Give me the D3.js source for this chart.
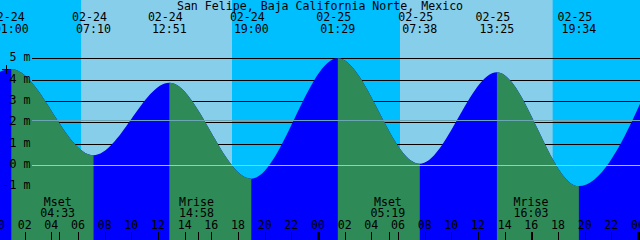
<!DOCTYPE html>
<html lang="en">
<head>
    <meta charset="UTF-8">
    <title>San Felipe tide graph</title>
    <script src="https://d3js.org/d3.v7.min.js"></script>
    <style>
        body { margin: 0; background: #fff; }
        svg { display: block; }
        text {
            font-family: "DejaVu Sans Mono", "Liberation Mono", monospace;
            font-size: 11.6px;
            fill: #000;
        }
        .grid { stroke: #000; stroke-width: 1; shape-rendering: crispEdges; }
        .tick { stroke: #000; shape-rendering: crispEdges; }
    </style>
</head>
<body>

<svg id="chart" width="640" height="240"></svg>

<script>
    const title = "San Felipe, Baja California Norte, Mexico";

    // tide extremes (first and last lie just outside the window)
    const tideTimes   = ["02-23 18:40", "02-24 01:00", "02-24 07:10", "02-24 12:51", "02-24 19:00",
                         "02-25 01:29", "02-25 07:38", "02-25 13:25", "02-25 19:34", "02-26 01:40"];
    const tideHeights = [-0.4, 4.5, 0.45, 3.85, -0.65, 5.0, 0.05, 4.35, -1.0, 5.1];
    const tideTypes   = ["low", "high", "low", "high", "low", "high", "low", "high", "low", "high"];

    const sunrise = ["02-24 06:14", "02-25 06:09"];
    const sunset  = ["02-24 17:33", "02-25 17:36"];

    const moonTimes  = ["02-24 04:33", "02-24 14:58", "02-25 05:19", "02-25 16:03"];
    const moonEvents = ["Mset", "Mrise", "Mset", "Mrise"];

    const depthTicks = [-1, 0, 1, 2, 3, 4, 5];
    const meanLevel = 2.09;
    const startTime = "02-24 00:00", endTime = "02-26 00:00";

    const W = 640, H = 240;
    const parse = d3.utcParse("%m-%d %H:%M");
    const fmtDate = d3.utcFormat("%m-%d");
    const fmtTime = d3.utcFormat("%H:%M");
    const fmtHour = d3.utcFormat("%H");

    const tides = tideTimes.map((t, i) => ({t: parse(t), h: tideHeights[i], type: tideTypes[i]}));

    const x = d3.scaleUtc()
        .domain([parse(startTime), parse(endTime)])
        .range([-2, 638]);
    const y = d3.scaleLinear()
        .domain([-1, 5])
        .range([186.1, 58.3]);

    const svg = d3.select("#chart");

    // night / day background
    svg.append("rect").attr("width", W).attr("height", H).attr("fill", "#00BFFF");
    svg.selectAll(".day")
        .data(sunrise.map((s, i) => [parse(s), parse(sunset[i])]))
        .enter().append("rect")
        .attr("class", "day")
        .attr("x", d => x(d[0]))
        .attr("width", d => x(d[1]) - x(d[0]))
        .attr("y", 0).attr("height", H)
        .attr("fill", "#87CEEB");

    // depth lines behind the water
    svg.selectAll(".grid")
        .data(depthTicks.filter(d => d !== 0))
        .enter().append("line")
        .attr("class", "grid")
        .attr("x1", 32).attr("x2", W)
        .attr("y1", d => Math.round(y(d)) + 0.5)
        .attr("y2", d => Math.round(y(d)) + 0.5);

    // water: flood in blue, ebb in green via clip
    const area = d3.area()
        .x(d => x(d.t))
        .y0(H)
        .y1(d => y(d.h))
        .curve(d3.curveMonotoneX);

    const ebb = [];
    tides.forEach((d, i) => {
        if (d.type === "high" && i + 1 < tides.length) ebb.push([d.t, tides[i + 1].t]);
    });

    svg.append("clipPath").attr("id", "ebbClip")
        .selectAll("rect")
        .data(ebb)
        .enter().append("rect")
        .attr("x", d => x(d[0]))
        .attr("width", d => x(d[1]) - x(d[0]))
        .attr("y", 0).attr("height", H);

    svg.append("path").datum(tides).attr("d", area).attr("fill", "#0000FF");
    svg.append("path").datum(tides).attr("d", area).attr("fill", "#2E8B57")
        .attr("clip-path", "url(#ebbClip)");

    // datum and mean level lines on top
    svg.append("line").attr("class", "grid")
        .attr("x1", 32).attr("x2", W)
        .attr("y1", Math.round(y(0)) + 0.5).attr("y2", Math.round(y(0)) + 0.5)
        .style("stroke", "#87CEEB");
    svg.append("line").attr("class", "grid")
        .attr("x1", 32).attr("x2", W)
        .attr("y1", Math.round(y(meanLevel)) + 0.5).attr("y2", Math.round(y(meanLevel)) + 0.5)
        .style("stroke", "#6AA6B4");

    // depth labels
    svg.selectAll(".ylab")
        .data(depthTicks)
        .enter().append("text")
        .attr("class", "ylab")
        .attr("x", 30.5)
        .attr("y", d => y(d) + 3)
        .attr("text-anchor", "end")
        .text(d => d + " m");

    // marker
    svg.append("path")
        .attr("d", "M1.5,69.5H10.5M6,65V74")
        .attr("stroke", "#000").attr("fill", "none")
        .attr("shape-rendering", "crispEdges");

    // title
    svg.append("text").attr("x", W / 2).attr("y", 9.5)
        .attr("text-anchor", "middle").text(title);

    // tide event labels
    const shown = tides.filter(d => d.t >= x.domain()[0] && d.t <= x.domain()[1]);
    svg.selectAll(".tdate")
        .data(shown)
        .enter().append("text")
        .attr("x", d => x(d.t) - 4)
        .attr("y", 21)
        .attr("text-anchor", "middle")
        .text(d => fmtDate(d.t));
    svg.selectAll(".ttime")
        .data(shown)
        .enter().append("text")
        .attr("x", d => x(d.t))
        .attr("y", 33)
        .attr("text-anchor", "middle")
        .text(d => fmtTime(d.t));

    // moon events
    const moon = moonTimes.map((t, i) => ({t: parse(t), name: moonEvents[i]}));
    svg.selectAll(".mname")
        .data(moon)
        .enter().append("text")
        .attr("x", d => x(d.t) - 1)
        .attr("y", 205.7)
        .attr("text-anchor", "middle")
        .text(d => d.name);
    svg.selectAll(".mtime")
        .data(moon)
        .enter().append("text")
        .attr("x", d => x(d.t) - 1)
        .attr("y", 217.3)
        .attr("text-anchor", "middle")
        .text(d => fmtTime(d.t));
    svg.selectAll(".mtick")
        .data(moon)
        .enter().append("line")
        .attr("class", "tick")
        .attr("x1", d => Math.round(x(d.t)) + 0.5)
        .attr("x2", d => Math.round(x(d.t)) + 0.5)
        .attr("y1", 231.5).attr("y2", H);

    // hour axis
    const hours = x.ticks(d3.utcHour.every(2));
    svg.selectAll(".htick")
        .data(hours)
        .enter().append("line")
        .attr("class", "tick")
        .attr("x1", d => Math.round(x(d)) + 0.5)
        .attr("x2", d => Math.round(x(d)) + 0.5)
        .attr("y1", 231.5).attr("y2", H)
        .attr("stroke-width", d => d.getUTCHours() === 0 ? 3 : 1);
    svg.selectAll(".hlab")
        .data(hours)
        .enter().append("text")
        .attr("x", d => x(d))
        .attr("y", 229.3)
        .attr("text-anchor", "middle")
        .text(d => fmtHour(d));
</script>

</body>
</html>
